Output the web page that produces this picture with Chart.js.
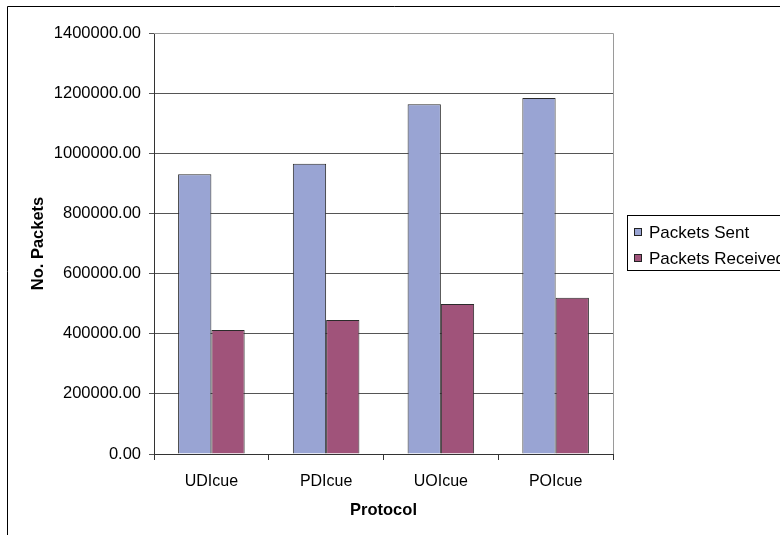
<!DOCTYPE html>
<html>
<head>
<meta charset="utf-8">
<script src="https://cdn.jsdelivr.net/npm/chart.js@4.4.1/dist/chart.umd.min.js"></script>
<style>
  html, body { margin: 0; padding: 0; background: #fff; }
  #wrap { width: 780px; height: 535px; overflow: hidden; }
</style>
</head>
<body>
<div id="wrap"><canvas id="c" width="780" height="535"></canvas></div>
<script>
// Protocols on the x axis
const protocols = ['UDIcue', 'PDIcue', 'UOIcue', 'POIcue'];
// Packet counts per protocol
const packetsSent = [930000, 965000, 1163000, 1184000];
const packetsReceived = [412000, 446000, 499000, 520000];
// Value axis
const yMax = 1400000;
const yStep = 200000;

const FONT = 'Liberation Sans, Arial, sans-serif';

// Frame, axis titles and legend drawn around the plot
const decorations = {
  id: 'decorations',
  afterDraw(chart) {
    const ctx = chart.ctx;
    const area = chart.chartArea;
    ctx.save();
    // outer frame (continues past the right and bottom edges)
    ctx.strokeStyle = '#000';
    ctx.lineWidth = 1;
    ctx.beginPath();
    ctx.moveTo(7.5, 540);
    ctx.lineTo(7.5, 6.5);
    ctx.lineTo(790, 6.5);
    ctx.stroke();

    // plot area border (top and right)
    ctx.strokeStyle = '#9a9a9a';
    ctx.beginPath();
    ctx.moveTo(area.left, area.top + 0.5);
    ctx.lineTo(area.right + 0.5, area.top + 0.5);
    ctx.lineTo(area.right + 0.5, area.bottom);
    ctx.stroke();

    // axis titles
    ctx.fillStyle = '#000';
    ctx.font = 'bold 16.5px ' + FONT;
    ctx.textAlign = 'center';
    ctx.textBaseline = 'middle';
    ctx.fillText('Protocol', (area.left + area.right) / 2, 510);
    ctx.translate(38, (area.top + area.bottom) / 2);
    ctx.rotate(-Math.PI / 2);
    ctx.fillText('No. Packets', 0, 0);
    ctx.restore();

    // legend
    ctx.save();
    ctx.strokeStyle = '#000';
    ctx.lineWidth = 1;
    ctx.strokeRect(627.5, 215.5, 220, 55);
    ctx.font = '17px ' + FONT;
    ctx.textAlign = 'left';
    ctx.textBaseline = 'middle';
    const rows = [232, 258];
    chart.data.datasets.forEach((ds, i) => {
      const y = rows[i];
      ctx.fillStyle = ds.backgroundColor;
      ctx.fillRect(634, y - 4, 8, 8);
      ctx.strokeStyle = '#222';
      ctx.strokeRect(634.5, y - 3.5, 7, 7);
      ctx.fillStyle = '#000';
      ctx.fillText(ds.label, 649, y + 1);
    });
    ctx.restore();
  }
};

new Chart(document.getElementById('c'), {
  type: 'bar',
  data: {
    labels: protocols,
    datasets: [
      {
        label: 'Packets Sent',
        data: packetsSent,
        backgroundColor: '#99A4D3',
        borderColor: '#2b2b2b',
        borderWidth: 1
      },
      {
        label: 'Packets Received',
        data: packetsReceived,
        backgroundColor: '#A0537A',
        borderColor: '#2b2b2b',
        borderWidth: 1
      }
    ]
  },
  options: {
    responsive: false,
    animation: false,
    devicePixelRatio: 1,
    layout: { padding: { left: 0, top: 33, right: 167, bottom: 0 } },
    datasets: {
      bar: { categoryPercentage: 0.58, barPercentage: 1.0 }
    },
    plugins: {
      legend: { display: false },
      tooltip: { enabled: false },
      title: { display: false }
    },
    scales: {
      x: {
        afterFit(scale) { scale.height = 81; },
        grid: {
          display: true,
          drawOnChartArea: false,
          drawTicks: true,
          tickLength: 6,
          color: '#333',
          offset: true
        },
        border: { display: true, color: '#333', width: 1 },
        ticks: {
          color: '#000',
          font: { family: FONT, size: 16 },
          padding: 12
        }
      },
      y: {
        min: 0,
        max: yMax,
        afterFit(scale) { scale.width = 154; },
        grid: {
          color: '#555',
          lineWidth: 1,
          drawTicks: true,
          tickLength: 5
        },
        border: { display: true, color: '#333', width: 1 },
        ticks: {
          stepSize: yStep,
          color: '#000',
          padding: 8,
          font: { family: FONT, size: 16.5 },
          callback: (v) => Number(v).toFixed(2)
        }
      }
    }
  },
  plugins: [decorations]
});
</script>
</body>
</html>
